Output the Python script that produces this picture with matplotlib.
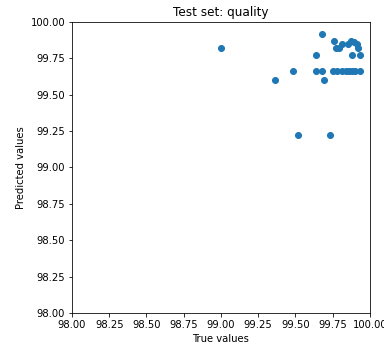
import matplotlib
matplotlib.use("Agg")
import matplotlib.pyplot as plt

true_vals = [99.00, 99.36, 99.48, 99.52, 99.73, 99.68, 99.64, 99.64, 99.68, 99.69,
             99.75, 99.78, 99.81, 99.84, 99.86, 99.88, 99.90, 99.93,
             99.76, 99.77, 99.79, 99.81, 99.85, 99.87, 99.89, 99.91, 99.92, 99.88, 99.93]
pred_vals = [99.82, 99.60, 99.66, 99.22, 99.22, 99.92, 99.77, 99.66, 99.66, 99.60,
             99.66, 99.66, 99.66, 99.66, 99.66, 99.66, 99.66, 99.66,
             99.87, 99.82, 99.82, 99.85, 99.85, 99.87, 99.86, 99.85, 99.82, 99.77, 99.77]

fig = plt.figure(figsize=(384/72, 347/72), dpi=72)
ax = fig.add_axes([0.1875, 0.098, 0.776, 0.8386])
ax.scatter(true_vals, pred_vals, color="#1f77b4")
ax.set_xlim(98, 100)
ax.set_ylim(98, 100)
ax.set_xticks([98 + 0.25 * i for i in range(9)])
ax.set_yticks([98 + 0.25 * i for i in range(9)])
ax.xaxis.set_major_formatter(matplotlib.ticker.FormatStrFormatter("%.2f"))
ax.yaxis.set_major_formatter(matplotlib.ticker.FormatStrFormatter("%.2f"))
ax.set_xlabel("True values")
ax.set_ylabel("Predicted values")
ax.set_title("Test set: quality")
fig.savefig("out.png", dpi=72)
